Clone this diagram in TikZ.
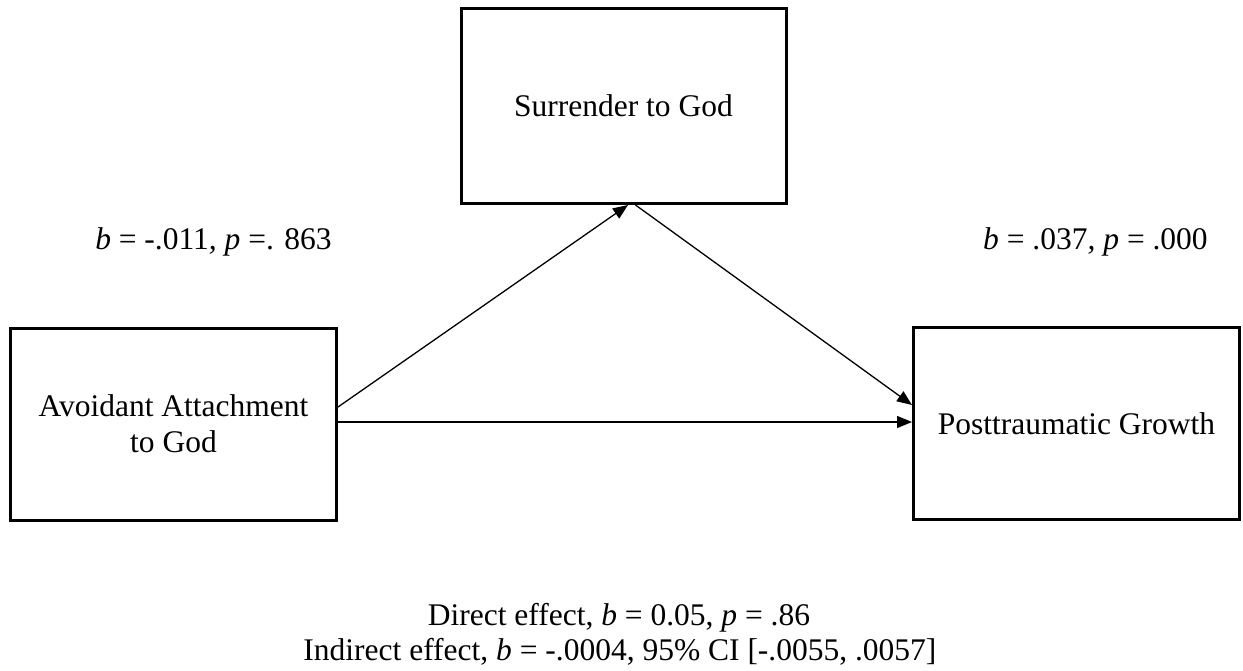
\documentclass[tikz,border=0pt]{standalone}
\usepackage{fontspec}
\setmainfont{Liberation Serif}
\usetikzlibrary{arrows.meta,calc}
\begin{document}
\begin{tikzpicture}[x=1pt,y=-1pt,
  box/.style={draw,line width=3pt,fill=white,inner sep=0pt,align=center,
    font=\fontsize{31.5}{36}\selectfont},
  lbl/.style={inner sep=0pt,anchor=base,font=\fontsize{31.5}{36}\selectfont},
  arr/.style={line width=1.3pt,-{Triangle[length=15pt,width=12pt]}}]
\useasboundingbox (0,0) rectangle (1243,671);
\node[box,minimum width=325pt,minimum height=195pt] (su) at (623.5,106) {Surrender to God};
\node[box,minimum width=326pt,minimum height=192pt] (av) at (173.5,424) {Avoidant Attachment\\to God};
\node[box,minimum width=326pt,minimum height=192pt] (pt) at (1076.5,423.5) {Posttraumatic Growth};
\draw[arr] ($(av.east)+(0,-17)$) -- ($(su.south)+(4.5,0)$);
\draw[arr] ($(su.south)+(12,0)$) -- ($(pt.west)+(0,-18.5)$);
\draw[arr] ($(av.east)+(0,-2)$) -- ($(pt.west)+(0,-1.5)$);
\node[lbl] (la) at (213.5,250) {\textit{b} = -.011\textit{,} \textit{p} =. 863};
\node[lbl] (lb) at (1095.5,250) {\textit{b} = .037\textit{,} \textit{p} = .000};
\node[lbl] (de) at (619,625) {Direct effect, \textit{b} = 0.05, \textit{p} = .86};
\node[lbl] (ie) at (620,660) {Indirect effect, \textit{b} = -.0004, 95\% CI [-.0055, .0057]};
\end{tikzpicture}
\end{document}
